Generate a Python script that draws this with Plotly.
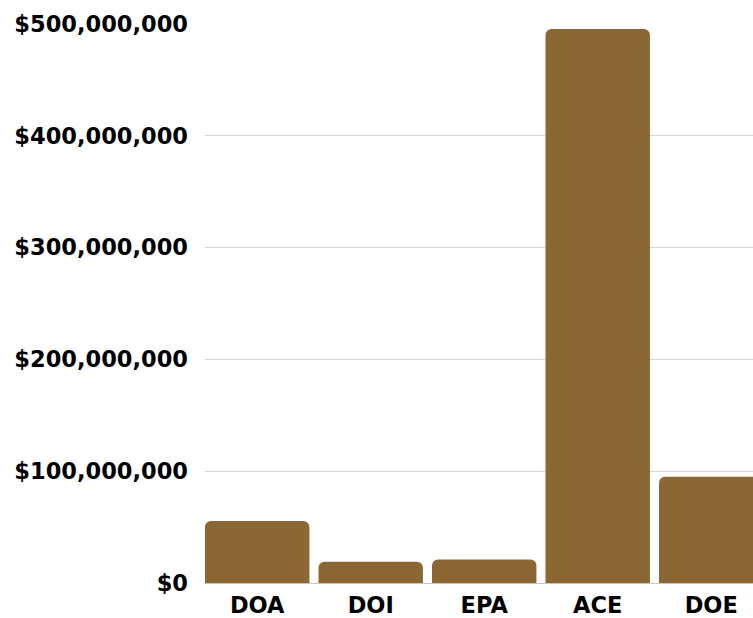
import plotly.graph_objects as go

agencies = ["DOA", "DOI", "EPA", "ACE", "DOE"]
amounts = [55500000, 19000000, 21000000, 495500000, 95000000]
tick_values = [0, 100000000, 200000000, 300000000, 400000000, 500000000]
tick_labels = ["$0", "$100,000,000", "$200,000,000", "$300,000,000", "$400,000,000", "$500,000,000"]

fig = go.Figure(
    go.Bar(
        x=agencies,
        y=amounts,
        marker=dict(color="#8B6733", cornerradius=6, line=dict(width=0)),
        hoverinfo="x+y",
    )
)

font = dict(family="DejaVu Sans", size=22.5, color="#000000", weight="bold")

fig.update_layout(
    width=753,
    height=618,
    margin=dict(l=205, r=0, t=24, b=35, pad=0),
    plot_bgcolor="white",
    paper_bgcolor="white",
    bargap=0.08,
    showlegend=False,
    font=font,
    xaxis=dict(
        range=[-0.46, 4.368],
        showgrid=False,
        showline=False,
        zeroline=False,
        ticks="",
        tickfont=font,
        ticklabelstandoff=6,
    ),
    yaxis=dict(
        range=[0, 500000000],
        tickvals=tick_values,
        ticktext=tick_labels,
        showgrid=True,
        gridcolor="#d6d6d6",
        gridwidth=1,
        zeroline=True,
        zerolinecolor="#c8c8c8",
        zerolinewidth=1,
        showline=False,
        ticks="",
        tickfont=font,
        ticklabelstandoff=16,
    ),
)

fig.write_html("out.html")
